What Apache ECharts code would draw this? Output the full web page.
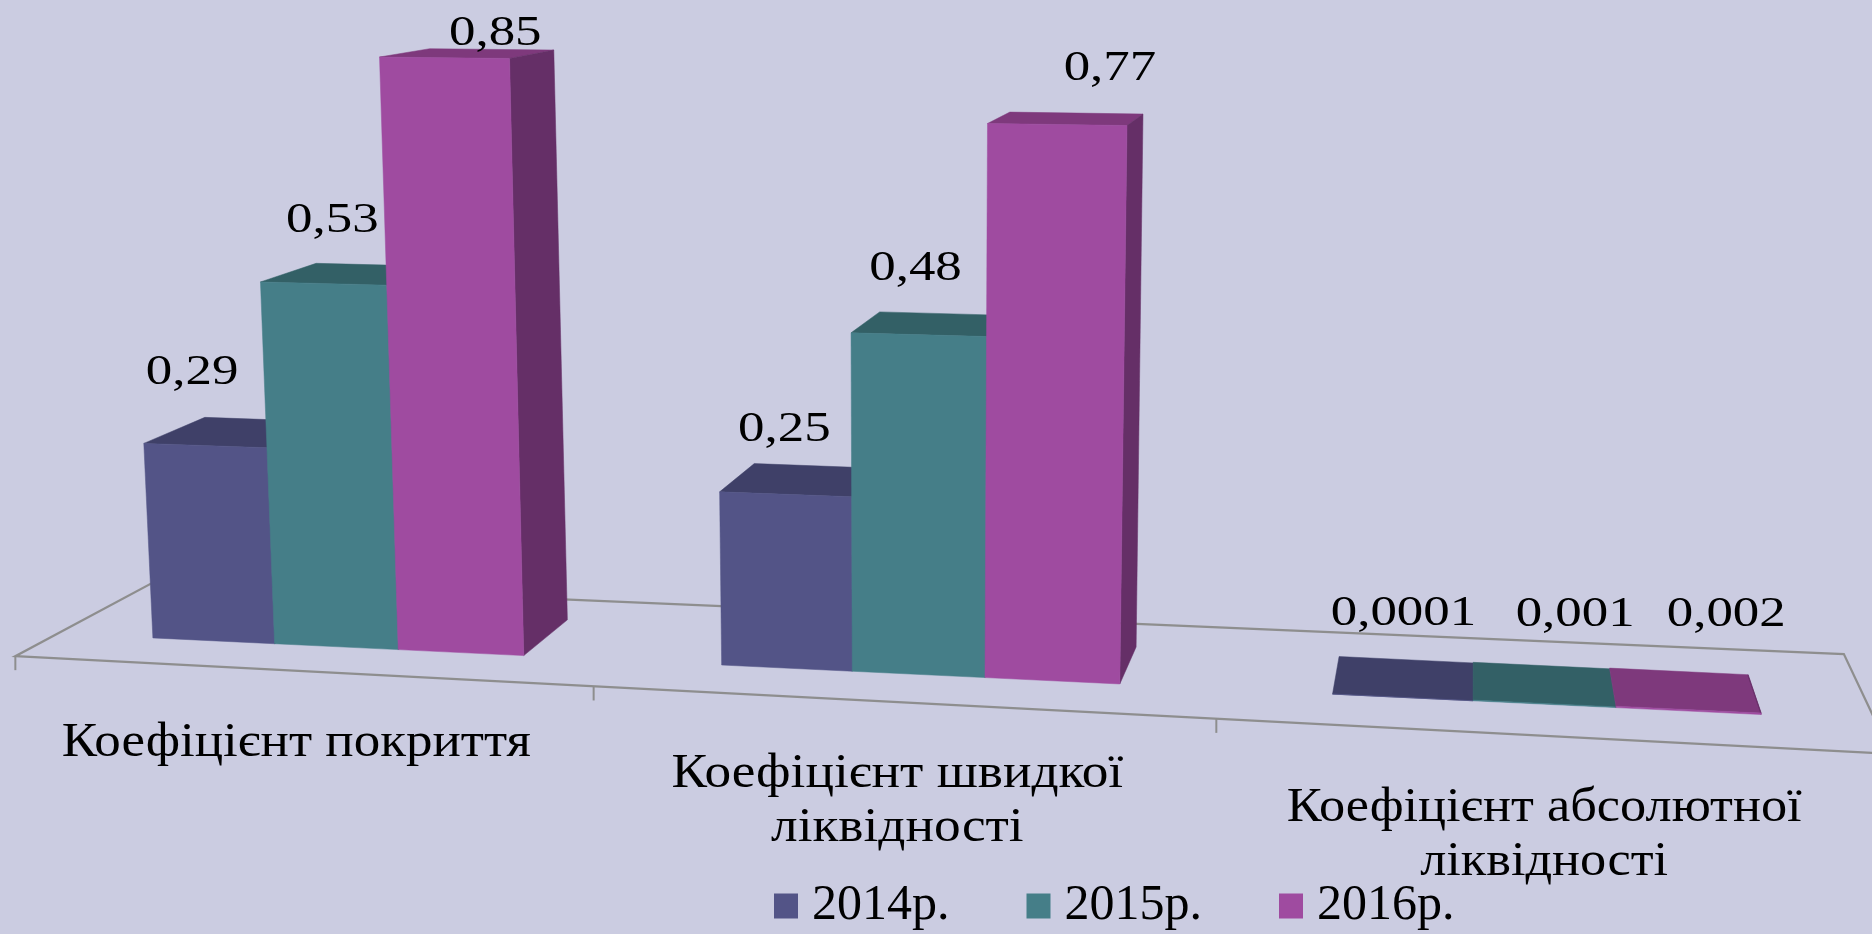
<!DOCTYPE html>
<html>
<head>
<meta charset="utf-8">
<style>html,body{margin:0;padding:0;background:#cbcce1}#c{width:1872px;height:934px}</style>
<script src="https://cdn.jsdelivr.net/npm/echarts@6/dist/echarts.min.js"></script>
</head>
<body>
<div id="c"></div>
<script>
const categories = ['Коефіцієнт покриття', 'Коефіцієнт швидкої\nліквідності', 'Коефіцієнт абсолютної\nліквідності'];
const years = ['2014р.', '2015р.', '2016р.'];
const values2014 = [0.29, 0.25, 0.0001];
const values2015 = [0.53, 0.48, 0.001];
const values2016 = [0.85, 0.77, 0.002];

// Styles and layout
const FONT = '"Liberation Serif", serif';
const FRONT = ['#535487', '#457E88', '#9F4BA0'];
const TOP = ['#3F4068', '#336066', '#7E397C'];
const SIDE = ['#3F4068', '#336066', '#652F67'];
const GRID = {left: 48, top: 25, width: 1824, height: 625, yMax: 0.9};
const GROUP_START = -0.33, BAR_W = 0.22;
// perspective calibration: plane (band position, value) -> screen position of the tilted view
const CAL = [
  [0.17, 0, 152.2, 637.8], [0.39, 0, 274.4, 643.8], [0.61, 0, 399.4, 649.8], [0.83, 0, 526.7, 655.2],
  [1.17, 0, 720.4, 664.6], [1.39, 0, 852, 670.9], [1.61, 0, 985.7, 677.7], [1.83, 0, 1122, 684],
  [2.17, 0, 1330.6, 694.7], [2.39, 0, 1472, 701], [2.61, 0, 1615.9, 707.7], [2.83, 0, 1762, 715],
  [0.17, 0.29, 142.7, 445], [0.39, 0.53, 260, 282.6], [0.61, 0.85, 380, 56.2], [0.83, 0.85, 510.9, 58.7],
  [1.17, 0.25, 718, 488.6], [1.39, 0.48, 849.7, 334.5], [1.61, 0.77, 986.9, 123.6], [1.83, 0.77, 1127.7, 125]
];
const VP = [1476, -125];
const BAR_DEPTH = 0.0458;
const FLOOR = {frontL: -0.03, frontR: -0.04, backL: 0.068, backR: 0.078, startBand: -0.004};
const LABEL_NUDGE = [
  [[-13, -73], [-1, -64], [1, -83]],
  [[9, -63], [-3, -66], [31, -89]],
  [[51, -24], [53, -56], [38, -95]]
];
const CAT_NUDGE = [[-40, 97], [-21, 127], [0, 131]];
const CAT_SCALE = [1.104, 1.11, 1.09];

function solve(A, b) {
  const n = b.length, M = A.map((r, i) => r.concat(b[i]));
  for (let i = 0; i < n; i++) {
    let p = i;
    for (let r = i + 1; r < n; r++) if (Math.abs(M[r][i]) > Math.abs(M[p][i])) p = r;
    [M[i], M[p]] = [M[p], M[i]];
    for (let r = 0; r < n; r++) {
      if (r === i) continue;
      const f = M[r][i] / M[i][i];
      for (let c = i; c <= n; c++) M[r][c] -= f * M[i][c];
    }
  }
  return M.map((r, i) => r[n] / r[i]);
}
const K = 1000;
function fitHomography() {
  const rows = [], rhs = [];
  CAL.forEach(([s, t, X0, Y0]) => {
    const x = (GRID.left + s * GRID.width / 3) / K;
    const y = (GRID.top + GRID.height - t * GRID.height / GRID.yMax) / K;
    const X = X0 / K, Y = Y0 / K;
    rows.push([x, y, 1, 0, 0, 0, -x * X, -y * X]); rhs.push(X);
    rows.push([0, 0, 0, x, y, 1, -x * Y, -y * Y]); rhs.push(Y);
  });
  const N = [], v = [];
  for (let i = 0; i < 8; i++) {
    N.push([]);
    for (let j = 0; j < 8; j++) N[i].push(rows.reduce((a, r) => a + r[i] * r[j], 0));
    v.push(rows.reduce((a, r, k) => a + r[i] * rhs[k], 0));
  }
  return solve(N, v);
}
const H = fitHomography();
function project(px, py) {
  const x = px / K, y = py / K;
  const w = H[6] * x + H[7] * y + 1;
  return [K * (H[0] * x + H[1] * y + H[2]) / w, K * (H[3] * x + H[4] * y + H[5]) / w];
}
function depth(p, k) { return [p[0] + k * (VP[0] - p[0]), p[1] + k * (VP[1] - p[1])]; }
function poly(points, fill) {
  return {type: 'polygon', shape: {points}, style: {fill, stroke: fill, lineWidth: 0.5}};
}
function fmt(v) { return String(v).replace('.', ','); }

function barSeries(name, i, vals) {
  return {
    type: 'custom', name, coordinateSystem: 'cartesian2d',
    itemStyle: {color: FRONT[i]},
    encode: {x: 0, y: 1},
    data: vals.map((v, d) => [d, v]),
    renderItem(params, api) {
      const d = api.value(0), v = api.value(1);
      const top = api.coord([d, v]), base = api.coord([d, 0]);
      const bw = api.size([1, 0])[0];
      const xL = top[0] + bw * (GROUP_START + i * BAR_W), xR = xL + bw * BAR_W;
      const a = project(xL, base[1]), b = project(xR, base[1]);
      const c = project(xR, top[1]), e = project(xL, top[1]);
      const dc = depth(c, BAR_DEPTH), de = depth(e, BAR_DEPTH), db = depth(b, BAR_DEPTH);
      const ctr = project((xL + xR) / 2, top[1]);
      const n = LABEL_NUDGE[i][d];
      return {type: 'group', children: [
        poly([e, c, dc, de], TOP[i]),
        poly([b, c, dc, db], SIDE[i]),
        poly([a, b, c, e], FRONT[i]),
        {type: 'text', x: ctr[0] + n[0], y: ctr[1] + n[1], scaleX: 1.26, z2: 50,
          style: {text: fmt(v), font: '42px ' + FONT, fill: '#000', align: 'center', verticalAlign: 'middle'}}
      ]};
    }
  };
}

const floorSeries = {
  type: 'custom', name: 'floor', coordinateSystem: 'cartesian2d', silent: true,
  encode: {x: 0, y: 1}, data: [[0, 0]],
  renderItem(params, api) {
    const base = api.coord([0, 0]), bw = api.size([1, 0])[0];
    const edge = k => project(base[0] - bw / 2 + k * bw, base[1]);
    const line = '#8E8E8E';
    const fl = depth(edge(FLOOR.startBand), FLOOR.frontL), fr = depth(edge(3), FLOOR.frontR);
    const bl = depth(edge(FLOOR.startBand), FLOOR.backL), br = depth(edge(3), FLOOR.backR);
    const kids = [{type: 'polygon', shape: {points: [fl, fr, br, bl]}, style: {fill: 'none', stroke: line, lineWidth: 2.2}}];
    [0, 1, 2].forEach(k => {
      const t = k / 3;
      const e = edge(k === 0 ? FLOOR.startBand : k);
      const p = depth(e, FLOOR.frontL + (FLOOR.frontR - FLOOR.frontL) * t);
      kids.push({type: 'line', shape: {x1: p[0], y1: p[1], x2: p[0], y2: p[1] + 14}, style: {stroke: line, lineWidth: 2}});
    });
    return {type: 'group', children: kids};
  }
};

const catSeries = {
  type: 'custom', name: 'cats', coordinateSystem: 'cartesian2d', silent: true,
  encode: {x: 0, y: 1}, data: categories.map((c, d) => [d, 0]),
  renderItem(params, api) {
    const d = api.value(0), p0 = api.coord([d, 0]);
    const p = project(p0[0], p0[1]);
    const n = CAT_NUDGE[d];
    return {type: 'text', x: p[0] + n[0], y: p[1] + n[1], scaleX: CAT_SCALE[d],
      style: {text: categories[d], font: '48px ' + FONT, lineHeight: 54, fill: '#000', align: 'center', verticalAlign: 'middle'}};
  }
};

const chart = echarts.init(document.getElementById('c'));
chart.setOption({
  animation: false,
  backgroundColor: '#CBCCE1',
  grid: {left: GRID.left, top: GRID.top, width: GRID.width, height: GRID.height},
  xAxis: {type: 'category', data: categories, show: false},
  yAxis: {type: 'value', min: 0, max: GRID.yMax, show: false},
  legend: {
    data: years, left: 769, top: 876, icon: 'rect', itemWidth: 24, itemHeight: 25, itemGap: 77,
    textStyle: {fontFamily: FONT, fontSize: 50, color: '#000', padding: [0, 0, 0, 9]}
  },
  series: [
    floorSeries,
    barSeries(years[0], 0, values2014),
    barSeries(years[1], 1, values2015),
    barSeries(years[2], 2, values2016),
    catSeries
  ]
});
</script>
</body>
</html>
